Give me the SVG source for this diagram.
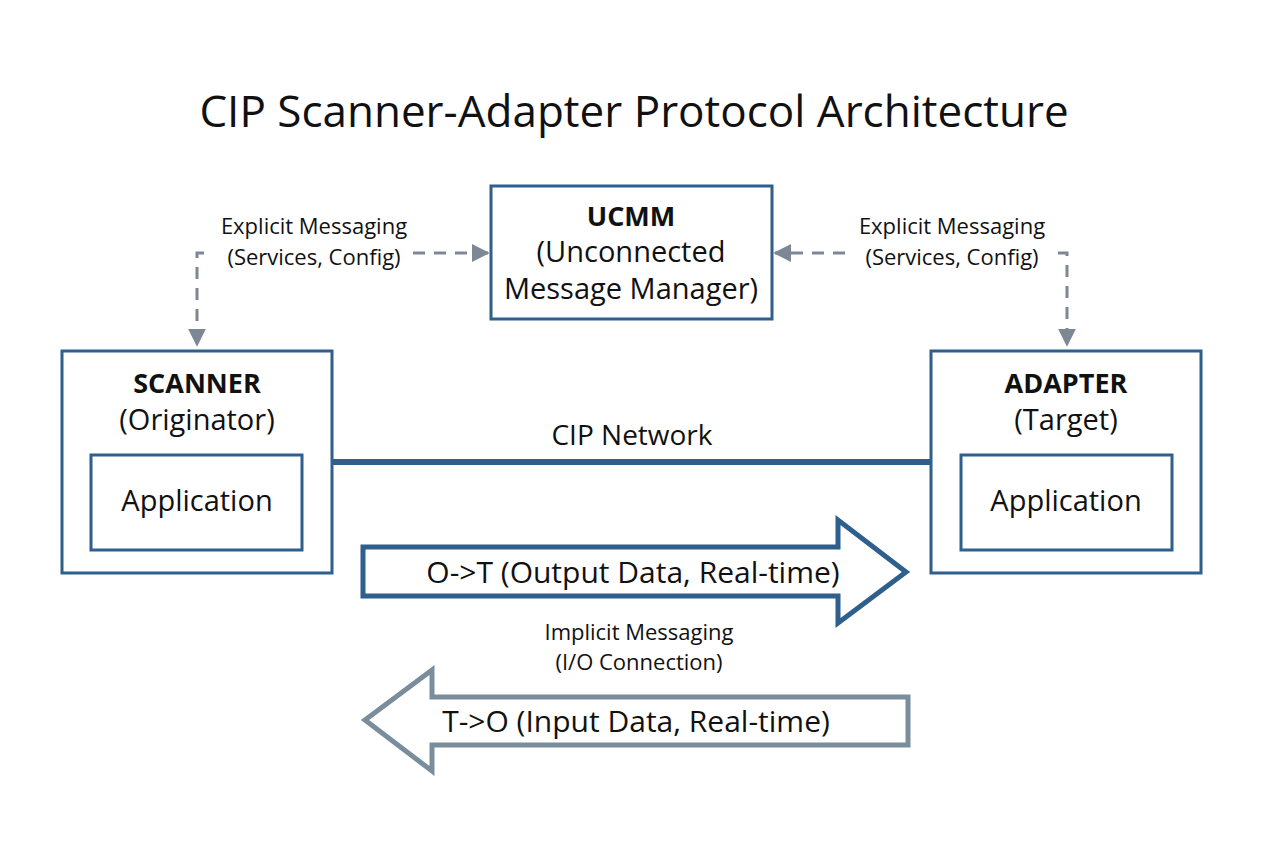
<svg xmlns="http://www.w3.org/2000/svg" width="1264" height="848" viewBox="0 0 1264 848">
<defs>
<style>
.box{fill:#fff;stroke:#2f5f8c;stroke-width:3}
.t{font-family:"Open Sans","Liberation Sans",sans-serif;fill:#111;text-anchor:middle}
.dash{fill:none;stroke:#7d8894;stroke-width:3;stroke-dasharray:12 9}
</style>
<marker id="ah" viewBox="0 0 10 10" refX="9" refY="5" markerWidth="6" markerHeight="6" markerUnits="strokeWidth" orient="auto"><path d="M0 0 L10 5 L0 10 Z" fill="#7d8894"/></marker>
</defs>
<rect width="1264" height="848" fill="#fff"/>
<text class="t" x="634" y="127" font-size="44">CIP Scanner-Adapter Protocol Architecture</text>
<g id="ucmm"><rect class="box" x="491" y="186" width="281" height="133"/>
<text class="t" x="631" y="226" font-size="27" font-weight="bold">UCMM</text>
<text class="t" x="631" y="262" font-size="29">(Unconnected</text>
<text class="t" x="631" y="299" font-size="29">Message Manager)</text></g>
<g id="scanner"><rect class="box" x="62" y="351" width="270" height="222"/>
<text class="t" x="197" y="393" font-size="27" font-weight="bold">SCANNER</text>
<text class="t" x="197" y="430" font-size="29">(Originator)</text>
<rect class="box" x="91" y="455" width="211" height="95"/>
<text class="t" x="197" y="511" font-size="29">Application</text></g>
<g id="adapter"><rect class="box" x="931" y="351" width="270" height="222"/>
<text class="t" x="1066" y="393" font-size="27" font-weight="bold">ADAPTER</text>
<text class="t" x="1066" y="430" font-size="29">(Target)</text>
<rect class="box" x="961" y="455" width="211" height="95"/>
<text class="t" x="1066" y="511" font-size="29">Application</text></g>
<g id="connectors">
<line x1="332" y1="462" x2="931" y2="462" stroke="#2f5f8c" stroke-width="6"/>
<text class="t" x="632" y="445" font-size="28">CIP Network</text>
<path class="dash" d="M413 253 H488" marker-end="url(#ah)"/>
<path class="dash" d="M204 253 H197 V345" marker-end="url(#ah)"/>
<path class="dash" d="M845 253 H775" marker-end="url(#ah)"/>
<path class="dash" d="M1058 253 H1067 V345" marker-end="url(#ah)"/>
<text class="t" x="314" y="234" font-size="22">Explicit Messaging</text>
<text class="t" x="314" y="265" font-size="22">(Services, Config)</text>
<text class="t" x="952" y="234" font-size="22">Explicit Messaging</text>
<text class="t" x="952" y="265" font-size="22">(Services, Config)</text>
<path d="M363 547 H838 V520 L906 572 L838 623 V596 H363 Z" fill="#fff" stroke="#2f5f8c" stroke-width="5"/>
<text class="t" x="633" y="583" font-size="30">O-&gt;T (Output Data, Real-time)</text>
<path d="M908 697 H432 V670 L365 720 L432 771 V745 H908 Z" fill="#fff" stroke="#7a8d9c" stroke-width="5"/>
<text class="t" x="636" y="732" font-size="30">T-&gt;O (Input Data, Real-time)</text>
<text class="t" x="639" y="640" font-size="22">Implicit Messaging</text>
<text class="t" x="639" y="670" font-size="22">(I/O Connection)</text>
</g>
</svg>
